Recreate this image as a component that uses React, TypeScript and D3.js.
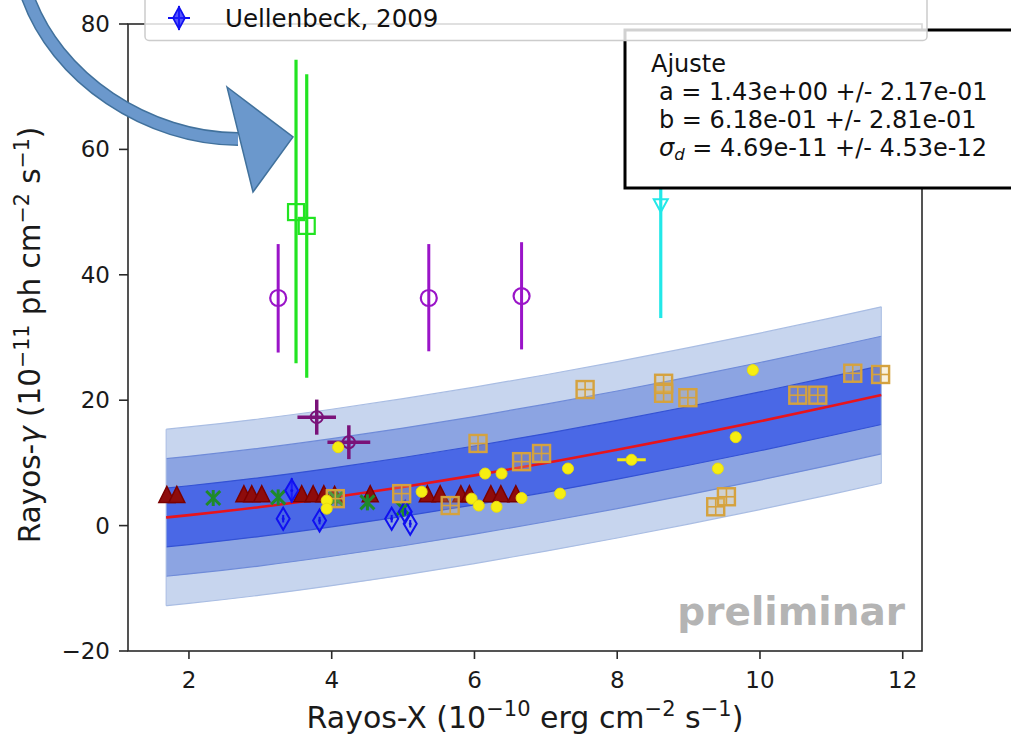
import React from "react";
import * as d3 from "d3";

// ---------- data ----------
const xTicks = [2, 4, 6, 8, 10, 12];
const yTicks = [-20, 0, 20, 40, 60, 80];

// fit curve
const fitX = [1.68, 2, 3, 4, 5, 6, 7, 8, 9, 10, 11, 11.7];
const fitY = [1.3, 1.67, 2.97, 4.49, 6.17, 8.01, 9.99, 12.09, 14.31, 16.63, 19.06, 20.82];
const bandHalf = [14.07, 9.38, 4.69];
const bandFill = ["#c7d5ee", "#8ca4e2", "#4a68e6"];
const bandEdge = ["#a9bde3", "#6f8bd8", "#3452d4"];

// dark red triangles
const triX = [1.69, 1.83, 2.77, 2.88, 3.02, 3.58, 3.74, 3.89, 4.04, 4.54, 5.34, 5.52, 5.81, 5.93, 6.23, 6.37, 6.58];
const triY = [4.9, 4.9, 5.0, 5.0, 5.0, 5.0, 5.0, 5.0, 4.9, 5.0, 5.0, 5.0, 5.0, 5.0, 5.0, 5.0, 5.0];

// green x
const grnX = [2.34, 3.25, 4.06, 4.5, 5.0];
const grnY = [4.4, 4.5, 4.3, 3.7, 2.7];

// blue diamonds
const bluX = [3.32, 3.44, 3.83, 4.84, 5.03, 5.1];
const bluY = [1.1, 5.6, 0.8, 1.1, 2.2, 0.3];
const bluErr = [0.6, 2.0, 0.6, 0.6, 0.6, 0.6];

// purple crosses
const crsX = [3.79, 4.24];
const crsY = [17.3, 13.3];
const crsXErr = [0.27, 0.3];
const crsYErr = [2.8, 2.7];

// violet circles
const vioX = [3.25, 5.36, 6.66];
const vioY = [36.3, 36.3, 36.6];
const vioLo = [27.6, 27.8, 28.1];
const vioHi = [44.9, 44.9, 45.2];

// lime squares
const limX = [3.5, 3.65];
const limY = [50.0, 47.8];
const limLo = [25.9, 23.6];
const limHi = [74.3, 72.0];

// cyan
const cyaX = [8.61];
const cyaY = [51.1];
const cyaLo = [33.1];
const cyaHi = [69.1];

// goldenrod squares
const gldX = [4.05, 4.98, 5.66, 6.05, 6.66, 6.94, 7.55, 8.65, 8.65, 8.99, 9.38, 9.53, 10.53, 10.81, 11.3, 11.69];
const gldY = [4.3, 5.1, 3.2, 13.1, 10.2, 11.5, 21.7, 22.7, 21.1, 20.4, 3.0, 4.6, 20.8, 20.8, 24.3, 24.1];

// yellow circles
const yelX = [4.09, 3.93, 3.93, 5.26, 5.96, 6.06, 6.15, 6.31, 6.38, 6.66, 7.2, 7.31, 8.2, 9.41, 9.66, 9.9];
const yelY = [12.5, 4.0, 2.7, 5.4, 4.3, 3.2, 8.3, 3.0, 8.3, 4.4, 5.1, 9.1, 10.5, 9.1, 14.1, 24.8];
const yelXErr = [0, 0, 0, 0, 0, 0, 0, 0, 0, 0, 0, 0, 0.2, 0, 0, 0];
const yelYErr = [0, 0, 0, 0, 0, 0, 0, 0, 0, 0, 0, 0, 0.3, 0.8, 0.5, 0];

const fitLines = [
  "a = 1.43e+00 +/- 2.17e-01",
  "b = 6.18e-01 +/- 2.81e-01",
];

// ---------- layout ----------
const W = 1011;
const H = 736;
const x = d3.scaleLinear().domain([1.146, 12.27]).range([128, 922]);
const y = d3.scaleLinear().domain([-20, 80]).range([651, 24]);
const FONT = "'DejaVu Sans', sans-serif";

export default function App() {
  const fitPts = fitX.map((v, i) => [v, fitY[i]] as [number, number]);
  const line = d3
    .line<[number, number]>()
    .x((d) => x(d[0]))
    .y((d) => y(d[1]))
    .curve(d3.curveMonotoneX);

  const bands = bandHalf.map((w) => {
    const area = d3
      .area<[number, number]>()
      .x((d) => x(d[0]))
      .y0((d) => y(d[1] - w))
      .y1((d) => y(d[1] + w))
      .curve(d3.curveMonotoneX);
    const up = d3
      .line<[number, number]>()
      .x((d) => x(d[0]))
      .y((d) => y(d[1] + w))
      .curve(d3.curveMonotoneX);
    const lo = d3
      .line<[number, number]>()
      .x((d) => x(d[0]))
      .y((d) => y(d[1] - w))
      .curve(d3.curveMonotoneX);
    return { area: area(fitPts) || "", up: up(fitPts) || "", lo: lo(fitPts) || "" };
  });

  const arrowShaft = "M26,-8 C55,80 150,139 238,139";

  return (
    <svg
      width={W}
      height={H}
      viewBox={`0 0 ${W} ${H}`}
      style={{ position: "absolute", left: 0, top: 0, background: "#fff" }}
      fontFamily={FONT}
    >
      <rect x={0} y={0} width={W} height={H} fill="#fff" />

      {/* bands */}
      {bands.map((b, i) => (
        <g key={"band" + i}>
          <path d={b.area} fill={bandFill[i]} stroke="none" />
          <path d={b.up} fill="none" stroke={bandEdge[i]} strokeWidth={1.2} />
          <path d={b.lo} fill="none" stroke={bandEdge[i]} strokeWidth={1.2} />
        </g>
      ))}
      <line x1={x(fitX[0])} x2={x(fitX[0])} y1={y(fitY[0] - bandHalf[0])} y2={y(fitY[0] + bandHalf[0])} stroke="#a9bde3" strokeWidth={1} />
      <line x1={x(fitX[fitX.length - 1])} x2={x(fitX[fitX.length - 1])} y1={y(fitY[fitY.length - 1] - bandHalf[0])} y2={y(fitY[fitY.length - 1] + bandHalf[0])} stroke="#a9bde3" strokeWidth={1} />

      {/* fit line */}
      <path d={line(fitPts) || ""} fill="none" stroke="#e8141c" strokeWidth={2.6} />

      {/* violet circles */}
      {vioX.map((v, i) => (
        <g key={"vio" + i} stroke="#9a14c8" fill="none">
          <line x1={x(v)} x2={x(v)} y1={y(vioLo[i])} y2={y(vioHi[i])} strokeWidth={3} />
          <circle cx={x(v)} cy={y(vioY[i])} r={8} strokeWidth={2.2} />
        </g>
      ))}

      {/* lime squares */}
      {limX.map((v, i) => (
        <g key={"lim" + i} stroke="#22e422" fill="none">
          <line x1={x(v)} x2={x(v)} y1={y(limLo[i])} y2={y(limHi[i])} strokeWidth={3.2} />
          <rect x={x(v) - 8} y={y(limY[i]) - 8} width={16} height={16} strokeWidth={2.2} />
        </g>
      ))}

      {/* cyan */}
      {cyaX.map((v, i) => (
        <g key={"cya" + i} stroke="#22e8e8" fill="none">
          <line x1={x(v)} x2={x(v)} y1={y(cyaLo[i])} y2={y(cyaHi[i])} strokeWidth={3.2} />
          <path
            d={`M${x(v) - 7},${y(cyaY[i]) - 6} L${x(v) + 7},${y(cyaY[i]) - 6} L${x(v)},${y(cyaY[i]) + 7} Z`}
            strokeWidth={2}
          />
        </g>
      ))}

      {/* purple crosses */}
      {crsX.map((v, i) => (
        <g key={"crs" + i} stroke="#7a1279" fill="none" strokeWidth={3.5}>
          <line x1={x(v - crsXErr[i])} x2={x(v + crsXErr[i])} y1={y(crsY[i])} y2={y(crsY[i])} />
          <line x1={x(v)} x2={x(v)} y1={y(crsY[i] - crsYErr[i])} y2={y(crsY[i] + crsYErr[i])} />
          <circle cx={x(v)} cy={y(crsY[i])} r={6} strokeWidth={2} />
        </g>
      ))}

      {/* dark red triangles */}
      {triX.map((v, i) => (
        <path
          key={"tri" + i}
          d={`M${x(v)},${y(triY[i]) - 8.5} L${x(v) + 8},${y(triY[i]) + 7.5} L${x(v) - 8},${y(triY[i]) + 7.5} Z`}
          fill="#8e0c0c"
          stroke="#7a0000"
          strokeWidth={1.5}
        />
      ))}

      {/* green x */}
      {grnX.map((v, i) => {
        const cx = x(v);
        const cy = y(grnY[i]);
        return (
          <g key={"grn" + i} stroke="#1f8a2a" strokeWidth={3}>
            <line x1={cx} x2={cx} y1={cy - 8} y2={cy + 8} />
            <line x1={cx - 7} x2={cx + 7} y1={cy - 7} y2={cy + 7} />
            <line x1={cx - 7} x2={cx + 7} y1={cy + 7} y2={cy - 7} />
          </g>
        );
      })}

      {/* blue diamonds */}
      {bluX.map((v, i) => {
        const cx = x(v);
        const cy = y(bluY[i]);
        return (
          <g key={"blu" + i} stroke="#1010f0" fill="none">
            <line x1={cx} x2={cx} y1={y(bluY[i] - bluErr[i])} y2={y(bluY[i] + bluErr[i])} strokeWidth={2} />
            <path
              d={`M${cx},${cy - 11} L${cx + 6.5},${cy} L${cx},${cy + 11} L${cx - 6.5},${cy} Z`}
              strokeWidth={2}
              fill={i === 1 ? "rgba(40,40,255,0.55)" : "none"}
            />
            <circle cx={cx} cy={cy} r={1.5} fill="#1010f0" stroke="none" />
          </g>
        );
      })}

      {/* goldenrod squares */}
      {gldX.map((v, i) => {
        const cx = x(v);
        const cy = y(gldY[i]);
        return (
          <g key={"gld" + i} stroke="#d5a23e" fill="none">
            <rect x={cx - 8.5} y={cy - 8.5} width={17} height={17} strokeWidth={2.4} fill="rgba(230,200,120,0.25)" />
            <line x1={cx - 8} x2={cx + 8} y1={cy} y2={cy} strokeWidth={1.6} />
            <line x1={cx} x2={cx} y1={cy - 8} y2={cy + 8} strokeWidth={1.6} />
          </g>
        );
      })}

      {/* yellow circles */}
      {yelX.map((v, i) => {
        const cx = x(v);
        const cy = y(yelY[i]);
        return (
          <g key={"yel" + i}>
            {yelXErr[i] > 0 && (
              <line x1={x(v - yelXErr[i])} x2={x(v + yelXErr[i])} y1={cy} y2={cy} stroke="#f4ea10" strokeWidth={3} />
            )}
            {yelYErr[i] > 0 && (
              <line x1={cx} x2={cx} y1={y(yelY[i] - yelYErr[i])} y2={y(yelY[i] + yelYErr[i])} stroke="#f4ea10" strokeWidth={3} />
            )}
            <circle cx={cx} cy={cy} r={5.5} fill="#f6ee12" stroke="#e8dc10" strokeWidth={1} />
          </g>
        );
      })}

      {/* spines */}
      <rect x={128} y={24} width={794} height={627} fill="none" stroke="#2a2a2a" strokeWidth={1.6} />

      {/* x ticks */}
      {xTicks.map((t) => (
        <g key={"xt" + t}>
          <line x1={x(t)} x2={x(t)} y1={651} y2={659} stroke="#2a2a2a" strokeWidth={1.6} />
          <text x={x(t)} y={688} fontSize={23} textAnchor="middle" fill="#1a1a1a">
            {t}
          </text>
        </g>
      ))}
      {/* y ticks */}
      {yTicks.map((t) => (
        <g key={"yt" + t}>
          <line x1={119} x2={128} y1={y(t)} y2={y(t)} stroke="#2a2a2a" strokeWidth={1.6} />
          <text x={110} y={y(t) + 8} fontSize={23} textAnchor="end" fill="#1a1a1a">
            {t < 0 ? "\u2212" + Math.abs(t) : String(t)}
          </text>
        </g>
      ))}

      {/* axis labels */}
      <text x={525} y={728} fontSize={30} textAnchor="middle" fill="#1a1a1a">
        <tspan>Rayos-X (10</tspan>
        <tspan fontSize={21} dy={-12}>{"\u221210"}</tspan>
        <tspan dy={12}> erg cm</tspan>
        <tspan fontSize={21} dy={-12}>{"\u22122"}</tspan>
        <tspan dy={12}> s</tspan>
        <tspan fontSize={21} dy={-12}>{"\u22121"}</tspan>
        <tspan dy={12}>)</tspan>
      </text>
      <text transform="translate(40,335) rotate(-90)" fontSize={29.5} textAnchor="middle" fill="#1a1a1a">
        <tspan>Rayos-</tspan>
        <tspan fontStyle="italic">{"\u03b3"}</tspan>
        <tspan> (10</tspan>
        <tspan fontSize={20.5} dy={-11}>{"\u221211"}</tspan>
        <tspan dy={11}> ph cm</tspan>
        <tspan fontSize={20.5} dy={-11}>{"\u22122"}</tspan>
        <tspan dy={11}> s</tspan>
        <tspan fontSize={20.5} dy={-11}>{"\u22121"}</tspan>
        <tspan dy={11}>)</tspan>
      </text>

      {/* watermark */}
      <text x={905} y={625} fontSize={39} fontWeight="bold" textAnchor="end" fill="#b4b4b4">
        preliminar
      </text>

      {/* fit box */}
      <rect x={625} y={30} width={420} height={158} fill="#fff" stroke="#000" strokeWidth={3} />
      <text x={651} y={72} fontSize={24} fill="#111">Ajuste</text>
      <text x={659} y={100} fontSize={24} fill="#111">{fitLines[0]}</text>
      <text x={659} y={128} fontSize={24} fill="#111">{fitLines[1]}</text>
      <text x={659} y={156} fontSize={24} fill="#111">
        <tspan fontStyle="italic">{"\u03c3"}</tspan>
        <tspan fontStyle="italic" fontSize={16.5} dy={4}>d</tspan>
        <tspan dy={-4}>{" = 4.69e-11 +/- 4.53e-12"}</tspan>
      </text>

      {/* legend */}
      <rect x={145} y={-12} width={782} height={52.5} rx={4} fill="rgba(255,255,255,0.82)" stroke="#cccccc" strokeWidth={1.5} />
      <g stroke="#1010f0">
        <line x1={168} x2={190} y1={18} y2={18} strokeWidth={2} />
        <line x1={179} x2={179} y1={6} y2={30} strokeWidth={2} />
        <path d="M179,7 L185,18 L179,29 L173,18 Z" fill="rgba(30,30,255,0.75)" strokeWidth={1.6} />
      </g>
      <text x={225} y={27} fontSize={24.5} fill="#111">Uellenbeck, 2009</text>

      {/* arrow */}
      <path d={arrowShaft} fill="none" stroke="#41719c" strokeWidth={14} />
      <path d={arrowShaft} fill="none" stroke="#6b98cc" strokeWidth={11} />
      <path d="M227,87 L293,137 L253,192 Z" fill="#6b98cc" stroke="#41719c" strokeWidth={1.5} strokeLinejoin="miter" />
    </svg>
  );
}
